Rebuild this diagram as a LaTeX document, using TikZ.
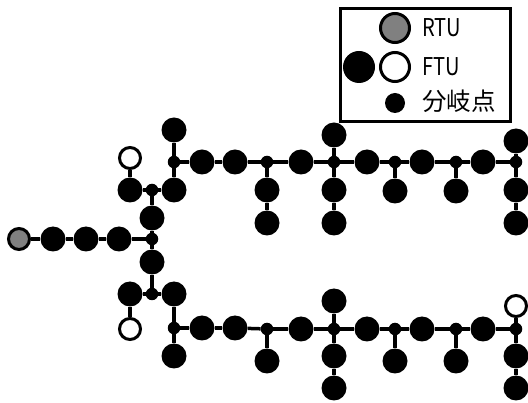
\documentclass[tikz,border=0pt]{standalone}
\usepackage{fontspec}
\newfontfamily\jpfont{Noto Sans CJK JP}
\definecolor{rtugray}{RGB}{128,128,128}
\begin{document}
\begin{tikzpicture}[x=1pt,y=-1pt,
  big/.style={circle,fill=black,inner sep=0pt,minimum size=25pt},
  jn/.style={circle,fill=black,inner sep=0pt,minimum size=12.5pt},
  opn/.style={circle,draw=black,fill=white,line width=3pt,inner sep=0pt,minimum size=21pt},
  rtu/.style={opn,fill=rtugray},
  link/.style={line width=3.5pt},
  legtext/.style={anchor=west,inner sep=0pt,font=\jpfont\fontsize{24.5}{24.5}\selectfont}]
\useasboundingbox (0,0) rectangle (528,403);
\clip (0,0) rectangle (528,403);
% left trunk
\node[rtu] (R) at (19,239) {};
\node[big] (a1) at (53,239) {};
\node[big] (a2) at (86,239) {};
\node[big] (a3) at (119,239) {};
\node[jn] (j0) at (152,239) {};
% upper branch
\node[big] (b1) at (152,218) {};
\node[jn] (j1) at (152,190) {};
\node[big] (c1) at (130,190) {};
\node[big] (c2) at (174,190) {};
\node[opn] (o1) at (130,158) {};
\node[jn] (j2) at (174,162) {};
\node[big] (d1) at (174,130) {};
\node[big] (d2) at (202,162) {};
\node[big] (d3) at (235,162) {};
\node[jn] (j3) at (267,162) {};
\node[big] (e1) at (267,190) {};
\node[big] (e2) at (267,223) {};
\node[big] (f1) at (301,162) {};
\node[jn] (j4) at (334,162) {};
\node[big] (g0) at (334,135) {};
\node[big] (g1) at (334,190) {};
\node[big] (g2) at (334,223) {};
\node[big] (f2) at (367,162) {};
\node[jn] (j5) at (395,162) {};
\node[big] (h1) at (395,191) {};
\node[big] (f3) at (422,162) {};
\node[jn] (j6) at (456,162) {};
\node[big] (h2) at (456,191) {};
\node[big] (f4) at (483,162) {};
\node[jn] (j7) at (516,162) {};
\node[big] (k0) at (516,141) {};
\node[big] (k1) at (516,190) {};
\node[big] (k2) at (516,223) {};
% lower branch
\node[big] (b2) at (152,262) {};
\node[jn] (j8) at (152,294) {};
\node[big] (c3) at (130,294) {};
\node[big] (c4) at (174,294) {};
\node[opn] (o2) at (130,329) {};
\node[jn] (j9) at (174,328) {};
\node[big] (d4) at (174,356) {};
\node[big] (d5) at (202,328) {};
\node[big] (d6) at (235,328) {};
\node[jn] (j10) at (267,329) {};
\node[big] (e3) at (267,361) {};
\node[big] (f5) at (301,329) {};
\node[jn] (j11) at (334,329) {};
\node[big] (g3) at (334,301) {};
\node[big] (g4) at (334,356) {};
\node[big] (g5) at (334,388) {};
\node[big] (f6) at (367,329) {};
\node[jn] (j12) at (395,329) {};
\node[big] (h3) at (395,361) {};
\node[big] (f7) at (422,329) {};
\node[jn] (j13) at (456,329) {};
\node[big] (h4) at (456,361) {};
\node[big] (f8) at (483,329) {};
\node[jn] (j14) at (516,329) {};
\node[opn] (o3) at (516,306) {};
\node[big] (k3) at (516,356) {};
\node[big] (k4) at (516,388) {};
% links
\foreach \u/\v in {R/a1,a1/a2,a2/a3,a3/j0,j0/b1,b1/j1,j0/b2,b2/j8,
  j1/c1,j1/c2,c1/o1,c2/j2,j2/d1,j2/d2,d2/d3,d3/j3,j3/e1,e1/e2,j3/f1,f1/j4,
  j4/g0,j4/g1,g1/g2,j4/f2,f2/j5,j5/h1,j5/f3,f3/j6,j6/h2,j6/f4,f4/j7,j7/k0,j7/k1,k1/k2,
  j8/c3,j8/c4,c3/o2,c4/j9,j9/d4,j9/d5,d5/d6,d6/j10,j10/e3,j10/f5,f5/j11,
  j11/g3,j11/g4,g4/g5,j11/f6,f6/j12,j12/h3,j12/f7,f7/j13,j13/h4,j13/f8,f8/j14,
  j14/o3,j14/k3,k3/k4}
  \draw[link] (\u) -- (\v);
% legend
\node[draw=black,line width=3pt,fill=white,anchor=north west,inner sep=0pt,
  minimum width=170pt,minimum height=113pt] (legend) at (339,7) {};
\node[rtu,minimum size=29pt] (lr) at (395,28) {};
\node[big,minimum size=32pt] (lfb) at (359,67) {};
\node[opn,minimum size=29pt] (lfo) at (395,67) {};
\node[jn,minimum size=20pt] (ld) at (395,103) {};
\node[legtext] (tr) at (422,28) {\scalebox{0.82}[1]{RTU}};
\node[legtext] (tf) at (422,67) {\scalebox{0.82}[1]{FTU}};
\node[legtext] (td) at (422,101) {分岐点};
\end{tikzpicture}
\end{document}
